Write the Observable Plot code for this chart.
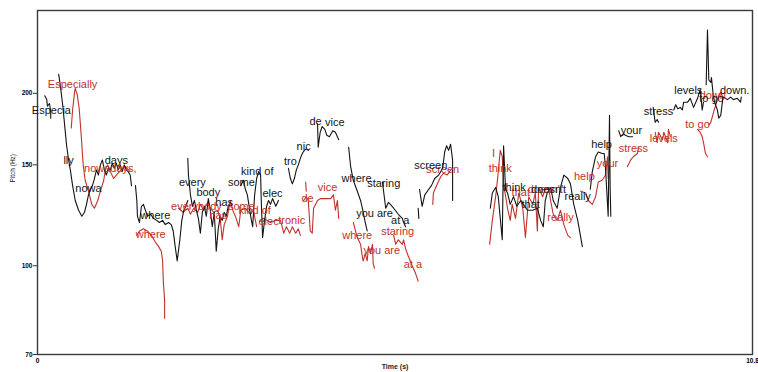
<!DOCTYPE html>
<html>
<head>
<meta charset="utf-8">
<script src="https://cdn.jsdelivr.net/npm/d3@7"></script>
<script src="https://cdn.jsdelivr.net/npm/@observablehq/plot@0.6"></script>
<style>
  html, body { margin: 0; padding: 0; background: #fff; }
</style>
</head>
<body>
<div id="chart"></div>
<script>
// ---- Data (time in s, pitch in Hz) ----
const blackContours = [
  [[0.11,198],[0.14,195],[0.15,190],[0.18,192],[0.20,186],[0.20,181]],
  [[0.32,216],[0.35,204],[0.38,191],[0.41,176],[0.44,162],[0.47,153],[0.50,146],[0.53,138],[0.57,130],[0.62,125],[0.67,122],[0.71,124],[0.74,128],[0.77,133],[0.80,136],[0.83,138],[0.86,142],[0.89,147],[0.92,144],[0.95,150],[0.98,153],[1.01,147],[1.04,144],[1.07,148],[1.10,147],[1.13,151],[1.16,148],[1.19,151],[1.22,147],[1.25,150],[1.28,146],[1.31,150],[1.34,147],[1.37,146],[1.40,144],[1.42,138]],
  [[1.48,138],[1.50,130],[1.51,122],[1.54,119],[1.57,127],[1.60,128],[1.63,125],[1.66,122],[1.71,123],[1.75,121],[1.80,120],[1.84,119],[1.89,120],[1.93,118],[1.98,119],[2.02,118],[2.05,115],[2.08,108],[2.11,102],[2.15,111],[2.18,120],[2.21,125],[2.24,127],[2.27,130]],
  [[2.27,154],[2.28,144],[2.31,133],[2.34,127],[2.37,130],[2.40,125],[2.43,121],[2.46,114],[2.49,124],[2.52,127],[2.55,122],[2.58,131],[2.61,125],[2.64,117],[2.67,124],[2.70,106],[2.73,116],[2.76,122],[2.79,120],[2.82,124],[2.85,122],[2.88,127]],
  [[3.07,138],[3.11,141],[3.14,136],[3.17,133],[3.22,122],[3.25,117],[3.28,133],[3.31,142],[3.34,146],[3.37,144],[3.38,130],[3.40,112],[3.43,120],[3.46,127],[3.49,130],[3.52,128],[3.55,131],[3.60,127],[3.64,130]],
  [[3.79,148],[3.82,142],[3.85,139],[3.88,142],[3.91,147],[3.94,150],[3.97,154],[4.00,157],[4.03,159],[4.06,160],[4.09,159]],
  [[4.23,177],[4.24,161],[4.27,171],[4.30,175],[4.34,173],[4.37,169],[4.41,168],[4.46,172],[4.50,171],[4.55,166]],
  [[4.70,161],[4.73,149],[4.77,141],[4.82,136],[4.88,130],[4.92,124],[4.95,119],[4.98,115]],
  [[5.21,140],[5.26,126],[5.30,129],[5.33,128],[5.38,126],[5.45,123],[5.51,121],[5.53,119],[5.56,117]],
  [[5.75,126],[5.76,121]],
  [[5.77,136],[5.81,127],[5.85,133],[5.91,136],[5.95,138],[6.00,142],[6.06,144],[6.12,148],[6.15,158],[6.18,162],[6.21,159],[6.24,163],[6.27,153],[6.27,130]],
  [[6.84,126],[6.87,134],[6.92,137],[6.96,132],[7.02,111],[7.04,162],[7.07,136],[7.10,134],[7.14,128],[7.19,132],[7.24,127],[7.30,130],[7.34,128],[7.40,125],[7.48,125],[7.55,126],[7.60,120],[7.64,117],[7.67,130],[7.70,134],[7.75,137],[7.79,130],[7.85,126],[7.90,137],[7.95,144],[8.01,142],[8.05,139],[8.10,128],[8.16,120],[8.20,113],[8.23,108]],
  [[8.35,136],[8.38,146],[8.43,155],[8.47,158],[8.53,157],[8.56,157],[8.58,148],[8.61,128],[8.62,122],[8.64,183],[8.65,136],[8.66,122]],
  [[8.78,172],[8.81,168],[8.85,170],[8.88,169],[8.93,168],[8.99,168]],
  [[9.30,189],[9.33,178],[9.36,180],[9.38,178]],
  [[9.61,187],[9.64,191],[9.67,188],[9.71,189],[9.74,187],[9.76,193],[9.82,193],[9.86,196],[9.91,189],[9.97,196],[10.01,203],[10.04,187],[10.06,193]],
  [[10.10,207],[10.12,258],[10.14,211],[10.17,209],[10.18,213],[10.21,197],[10.24,191],[10.27,187],[10.29,181],[10.32,183],[10.35,195],[10.36,197],[10.42,195],[10.47,197],[10.51,195],[10.57,196],[10.62,193],[10.63,197]]
];

const redContours = [
  [[0.51,174],[0.53,187],[0.56,201],[0.57,204],[0.60,199],[0.63,188],[0.66,169],[0.69,150],[0.72,141],[0.77,135],[0.82,128],[0.86,126],[0.91,130],[0.95,135],[1.00,141],[1.03,148],[1.06,150],[1.10,146],[1.15,142],[1.19,144],[1.24,146],[1.28,148],[1.33,149],[1.37,147],[1.40,147]],
  [[1.50,113],[1.54,115],[1.60,116],[1.66,115],[1.72,113],[1.78,110],[1.83,108],[1.87,106],[1.89,102],[1.90,94],[1.92,87],[1.92,81]],
  [[2.13,126],[2.20,124],[2.27,126],[2.31,123],[2.36,126],[2.42,124],[2.46,128],[2.51,125],[2.57,129],[2.61,126],[2.66,124],[2.72,125],[2.76,121],[2.79,111],[2.82,118],[2.87,122],[2.91,130],[2.96,124],[2.99,122],[3.04,117],[3.07,125],[3.14,126],[3.22,123],[3.26,125],[3.31,117]],
  [[3.37,120],[3.41,121],[3.47,120],[3.52,119],[3.60,120],[3.67,120],[3.72,114],[3.76,117],[3.81,114],[3.85,117],[3.90,114],[3.94,116],[3.97,113]],
  [[4.05,140],[4.06,135]],
  [[4.02,130],[4.06,132],[4.09,130],[4.12,115],[4.15,114],[4.17,126],[4.23,130],[4.27,131],[4.32,131],[4.38,131],[4.43,131],[4.47,133],[4.50,125],[4.53,130],[4.55,121]],
  [[4.77,119],[4.83,112],[4.88,109],[4.91,103],[4.92,102],[4.95,105],[4.98,102],[5.00,108],[5.03,105],[5.06,109],[5.07,101],[5.09,99]],
  [[5.38,113],[5.41,109],[5.45,111],[5.51,109],[5.53,111],[5.56,107],[5.60,104],[5.66,100],[5.71,97],[5.75,94]],
  [[5.97,128],[5.98,134],[6.04,139],[6.09,143],[6.13,145],[6.19,144],[6.24,147]],
  [[6.83,109],[6.87,120],[6.92,132],[6.95,142],[6.99,159],[7.02,155],[7.04,139],[7.10,126],[7.14,120],[7.17,128],[7.22,121],[7.27,134],[7.33,126],[7.37,112],[7.42,132],[7.48,128],[7.52,134],[7.55,115],[7.57,137],[7.63,132],[7.67,136],[7.72,137],[7.75,130],[7.79,123],[7.85,120],[7.90,125],[7.95,118],[8.01,113],[8.05,112]],
  [[8.20,135],[8.28,134],[8.32,130],[8.38,128],[8.43,132],[8.47,140],[8.53,141],[8.58,144],[8.61,155],[8.62,142]],
  [[8.91,149],[8.96,153],[9.00,155],[9.06,157],[9.08,161]],
  [[9.33,171],[9.36,164],[9.38,171],[9.44,166],[9.46,171],[9.52,164],[9.53,173],[9.56,168]],
  [[9.97,173],[10.01,171],[10.04,168],[10.06,164],[10.09,157],[10.12,155]],
  [[10.14,176],[10.17,178],[10.21,185],[10.27,195],[10.32,201],[10.35,197]]
];

const blackWords = ["Especia","lly","nowa","days","where","every","body","has","some","kind of","elec","tro","nic","de","vice","where","staring","you are","at a","screen","think","that","doesn't","really","help","your","stress","levels","to go","down."];
const blackWordTime = [0.21,0.47,0.77,1.19,1.78,2.34,2.58,2.82,3.08,3.32,3.55,3.82,4.02,4.20,4.49,4.82,5.23,5.09,5.48,5.94,7.20,7.45,7.72,8.16,8.52,8.97,9.38,9.83,10.18,10.53];
const blackWordHz = [186.5,152.5,136.5,152.5,122.5,140,134,129,139.5,146,133.5,152,161.5,178.5,178,142,139,123.5,120,149.5,137,128,136,132,163,172,186,202,196,202];

const redWords = ["Especially","nowadays,","where","everybody","has","some","kind of","elec","tronic","de","vice","where","you are","staring","at a","screen","I","think","that","doesn't","really","help","your","stress","levels","to go","down"];
const redWordTime = [0.53,1.10,1.71,2.40,2.73,3.08,3.28,3.49,3.84,4.08,4.38,4.83,5.20,5.44,5.67,6.12,6.89,6.99,7.30,7.67,7.90,8.26,8.61,9.00,9.46,9.97,10.20];
const redWordHz = [207.5,148,113.5,127,122.5,127,125,119.5,120,131,137,113,106.5,115,100.5,147.5,157,148,134,136,121.5,143,151,160,167,176.5,198.5];

const yTicks = [70, 100, 150, 200];
const xTicks = [0, 10.8];
const xTickLabels = ["0", "10.8"];

// ---- Build tables ----
function flatten(contours, speaker) {
  const rows = [];
  contours.forEach((seg, i) => seg.forEach(([t, hz]) => rows.push({t, hz, seg: speaker + i})));
  return rows;
}
const blackRows = flatten(blackContours, "b");
const redRows = flatten(redContours, "r");
const blackLabelRows = blackWords.map((w, i) => ({w, t: blackWordTime[i], hz: blackWordHz[i]}));
const redLabelRows = redWords.map((w, i) => ({w, t: redWordTime[i], hz: redWordHz[i]}));

const BLACK = "#141414";
const RED = "#c2312d";

const chart = Plot.plot({
  width: 758,
  height: 372,
  marginLeft: 37,
  marginRight: 6,
  marginTop: 10,
  marginBottom: 18,
  style: {fontFamily: "'Liberation Sans', Arial, sans-serif", background: "#fff", overflow: "visible"},
  x: {domain: [0, 10.8]},
  y: {type: "log", domain: [70, 279]},
  marks: [
    Plot.frame({stroke: "#3a3a3a", strokeWidth: 1.4}),
    Plot.line(redRows, {x: "t", y: "hz", z: "seg", stroke: RED, strokeWidth: 1.1, curve: "linear"}),
    Plot.line(blackRows, {x: "t", y: "hz", z: "seg", stroke: BLACK, strokeWidth: 1.1, curve: "linear"}),
    Plot.text(redLabelRows, {x: "t", y: "hz", text: "w", fill: RED, fontSize: 11}),
    Plot.text(blackLabelRows, {x: "t", y: "hz", text: "w", fill: BLACK, fontSize: 11}),
    Plot.axisY({ticks: yTicks, tickFormat: d => String(d), tickSize: 4, tickPadding: 1, fontSize: 6.5, fontWeight: "bold", label: null, stroke: "#333"}),
    Plot.axisX({ticks: xTicks, tickFormat: (d) => xTickLabels[xTicks.indexOf(d)], tickSize: 0, tickPadding: 4, fontSize: 6.5, fontWeight: "bold", label: null}),
    Plot.text(["Time (s)"], {frameAnchor: "bottom", dy: 14, text: d => d, fontSize: 7, fontWeight: "bold", fill: "#222"}),
    Plot.text(["Pitch (Hz)"], {frameAnchor: "left", dx: -25, rotate: -90, text: d => d, fontSize: 6.5, fill: "#222"})
  ]
});
document.getElementById("chart").appendChild(chart);
</script>
</body>
</html>
